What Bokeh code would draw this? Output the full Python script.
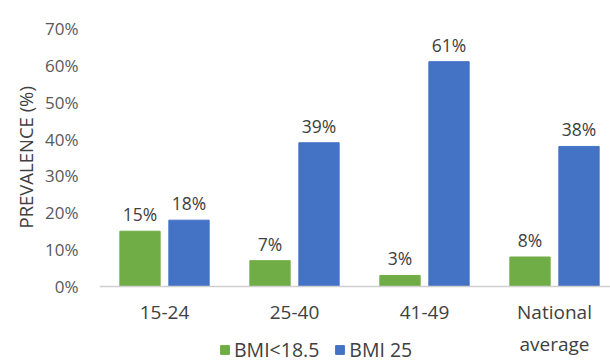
import numpy as np
from bokeh.plotting import figure
from bokeh.models import (ColumnDataSource, FixedTicker, PrintfTickFormatter,
                          Legend, LegendItem, Title)
from bokeh.core.properties import value
from bokeh.embed import file_html
from bokeh.resources import INLINE

# Prevalence (%) by age group
groups = ["15-24", "25-40", "41-49", "National\naverage"]
underweight = [15, 7, 3, 8]     # BMI<18.5
overweight = [18, 39, 61, 38]   # BMI 25
series_names = ["BMI<18.5", "BMI 25"]
y_ticks = [0, 10, 20, 30, 40, 50, 60, 70]

GREEN = "#70ad47"
BLUE = "#4472c4"
TEXT = "#595959"
DARK = "#404040"
FONT = "Open Sans"

centers = np.arange(len(groups)) + 0.5
shift = 0.1885
bar_w = 0.31

src_g = ColumnDataSource(dict(x=centers - shift, top=underweight,
                              label=[f"{v}%" for v in underweight]))
src_b = ColumnDataSource(dict(x=centers + shift, top=overweight,
                              label=[f"{v}%" for v in overweight]))

# frame runs to the bottom edge; the category axis is pinned at y=0 so the
# space under it holds the category labels and the legend
px_per_unit = 258 / 70
y_floor = -77 / px_per_unit

p = figure(width=610, height=363, output_backend="svg", toolbar_location=None,
           x_range=(0, 511 / 130), y_range=(y_floor, 70),
           min_border_left=99, min_border_right=0, min_border_top=28, min_border_bottom=0)
p.outline_line_color = None
p.grid.grid_line_color = None
p.background_fill_color = "white"
p.border_fill_color = "white"

rg = p.vbar(x="x", top="top", width=bar_w, source=src_g, color=GREEN)
rb = p.vbar(x="x", top="top", width=bar_w, source=src_b, color=BLUE)

for src in (src_g, src_b):
    p.text(x="x", y="top", text="label", source=src, text_align="center",
           text_baseline="alphabetic", y_offset=-17, text_color=DARK,
           text_font=value(FONT), text_font_size="17.5px")

# x axis: category labels
xa = p.xaxis[0]
xa.fixed_location = 0
xa.ticker = FixedTicker(ticks=list(centers))
xa.major_label_overrides = {float(c): g for c, g in zip(centers, groups)}
xa.axis_line_color = "#d0d0d0"
xa.axis_line_width = 1.5
xa.major_tick_line_color = None
xa.minor_tick_line_color = None
xa.major_label_standoff = 6
xa.major_label_text_font = FONT
xa.major_label_text_font_size = "19px"
xa.major_label_text_color = DARK
xa.major_label_text_line_height = 1.25

# y axis: percentages
ya = p.yaxis[0]
ya.ticker = FixedTicker(ticks=y_ticks)
ya.formatter = PrintfTickFormatter(format="%d%%")
ya.axis_line_color = None
ya.major_tick_line_color = None
ya.minor_tick_line_color = None
ya.major_label_standoff = 15
ya.major_label_text_font = FONT
ya.major_label_text_font_size = "17px"
ya.major_label_text_color = TEXT

# y axis title, centred on the 0-70% span
p.add_layout(Title(text="PREVALENCE (%)", align="left", offset=135,
                   text_font=FONT, text_font_style="normal",
                   text_font_size="18.5px", text_color=DARK, standoff=10), "left")

legend = Legend(items=[LegendItem(label=series_names[0], renderers=[rg]),
                       LegendItem(label=series_names[1], renderers=[rb])],
                orientation="horizontal", location=(120, 0),
                glyph_width=11, glyph_height=11, label_standoff=4, spacing=15,
                padding=0, margin=0, border_line_color=None,
                background_fill_alpha=0,
                label_text_font=FONT, label_text_font_size="19.5px",
                label_text_color=DARK)
p.add_layout(legend, "center")

open("out.html", "w").write(file_html(p, INLINE))
